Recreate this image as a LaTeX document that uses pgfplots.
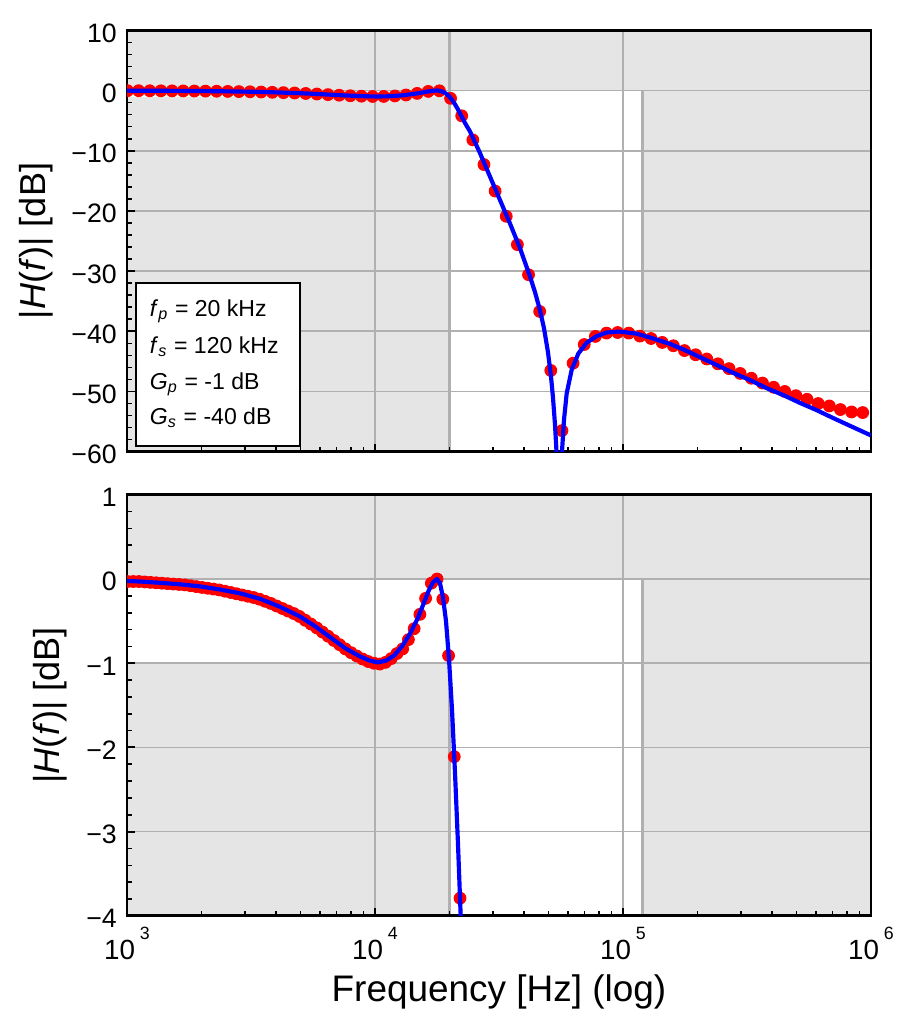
\documentclass[border=0pt]{standalone}
\usepackage{fontspec}
\setmainfont{Liberation Sans}
\usepackage{pgfplots}
\pgfplotsset{compat=1.18}
\usepackage{pgfplotstable}
\definecolor{band}{RGB}{229,229,229}
\definecolor{gridc}{RGB}{176,176,176}
\newcommand{\pw}[1]{10\kern1.7bp\raisebox{7.1bp}{\fontsize{6.4bp}{7bp}\selectfont #1}}

\pgfplotstableread{
lx db
3.0020 -0.03
3.0469 -0.03
3.0919 -0.04
3.1368 -0.05
3.1817 -0.06
3.2266 -0.07
3.2715 -0.085
3.3164 -0.105
3.3614 -0.125
3.4063 -0.15
3.4512 -0.18
3.4961 -0.21
3.5410 -0.25
3.5860 -0.30
3.6309 -0.355
3.6758 -0.415
3.7207 -0.49
3.7656 -0.58
3.8105 -0.68
3.8555 -0.78
3.9004 -0.87
3.9453 -0.94
3.9902 -0.99
4.0351 -0.985
4.0801 -0.90
4.1250 -0.74
4.1699 -0.48
4.2148 -0.15
4.2597 -0.05
4.3047 -1.3
4.3496 -4.2
4.3945 -8.2
4.4394 -12.3
4.4843 -16.7
4.5292 -20.9
4.5742 -25.6
4.6191 -30.6
4.6640 -36.7
4.7089 -46.5
4.7538 -56.5
4.7988 -45.3
4.8437 -42.2
4.8886 -40.85
4.9335 -40.3
4.9784 -40.2
5.0234 -40.3
5.0683 -40.8
5.1132 -41.2
5.1581 -41.85
5.2030 -42.4
5.2479 -43.2
5.2929 -43.9
5.3378 -44.6
5.3827 -45.4
5.4276 -46.2
5.4725 -47.0
5.5175 -47.8
5.5624 -48.6
5.6073 -49.3
5.6522 -50.0
5.6971 -50.7
5.7421 -51.3
5.7870 -52.0
5.8319 -52.4
5.8768 -53.0
5.9217 -53.4
5.9666 -53.5
}\topdots

\pgfplotstableread{
lx db
3.0020 -0.03
3.0251 -0.03
3.0483 -0.03
3.0714 -0.035
3.0945 -0.04
3.1176 -0.045
3.1407 -0.05
3.1638 -0.055
3.1870 -0.06
3.2101 -0.065
3.2332 -0.07
3.2563 -0.08
3.2794 -0.09
3.3025 -0.10
3.3257 -0.11
3.3488 -0.12
3.3719 -0.13
3.3950 -0.145
3.4181 -0.16
3.4412 -0.175
3.4644 -0.19
3.4875 -0.205
3.5106 -0.22
3.5337 -0.24
3.5568 -0.265
3.5799 -0.29
3.6031 -0.32
3.6262 -0.35
3.6493 -0.38
3.6724 -0.41
3.6955 -0.445
3.7186 -0.49
3.7418 -0.535
3.7649 -0.58
3.7880 -0.63
3.8111 -0.68
3.8342 -0.73
3.8573 -0.78
3.8805 -0.83
3.9036 -0.875
3.9267 -0.915
3.9498 -0.95
3.9729 -0.98
3.9960 -1.00
4.0192 -1.01
4.0423 -0.99
4.0654 -0.945
4.0885 -0.885
4.1116 -0.83
4.1347 -0.72
4.1579 -0.59
4.1810 -0.42
4.2041 -0.23
4.2272 -0.05
4.2503 0.0
4.2734 -0.24
4.2966 -0.91
4.3197 -2.11
4.3428 -3.79
}\botdots

\pgfplotstableread{
lx db
3.0000 -0.024
3.0524 -0.03
3.1331 -0.045
3.2137 -0.063
3.2944 -0.088
3.3750 -0.125
3.4556 -0.17
3.5363 -0.235
3.6169 -0.33
3.6976 -0.445
3.7581 -0.56
3.8185 -0.69
3.8790 -0.82
3.9395 -0.92
3.9798 -0.97
4.0121 -0.99
4.0444 -0.97
4.0766 -0.91
4.1089 -0.80
4.1411 -0.65
4.1734 -0.46
4.1976 -0.28
4.2177 -0.13
4.2339 -0.04
4.2500 0.0
4.2621 -0.05
4.2742 -0.22
4.2863 -0.50
4.2984 -0.95
4.3105 -1.55
4.3226 -2.3
4.3347 -3.15
4.3468 -4.1
4.3629 -5.4
4.3831 -6.8
4.4234 -10.4
4.4637 -14.3
4.5040 -18.2
4.5444 -22.1
4.5847 -26.2
4.6250 -30.9
4.6452 -33.5
4.6653 -36.5
4.6815 -39.5
4.6976 -43.5
4.7097 -47.5
4.7177 -51
4.7258 -55.5
4.7319 -60
4.7379 -67
4.7419 -80
4.7480 -68
4.7540 -60
4.7621 -54.7
4.7730 -50.3
4.7931 -46.4
4.8198 -43.7
4.8536 -41.9
4.8940 -40.8
4.9343 -40.2
4.9879 -40.05
5.0552 -40.4
5.1222 -41.2
5.1895 -42.1
5.2431 -43.0
5.3105 -44.3
5.3778 -45.6
5.4435 -46.9
5.5121 -48.1
5.5766 -49.4
5.6464 -50.6
5.7137 -51.9
5.7810 -53.1
5.8468 -54.4
5.9153 -55.7
6.0000 -57.3
}\curve

\pgfplotsset{
  filt/.style={
    scale only axis, width=267.84bp,
    xmin=3, xmax=6,
    xtick={3,4,5,6},
    minor xtick={3.30103,3.47712,3.60206,3.69897,3.77815,3.84510,3.90309,3.95424,
                 4.30103,4.47712,4.60206,4.69897,4.77815,4.84510,4.90309,4.95424,
                 5.30103,5.47712,5.60206,5.69897,5.77815,5.84510,5.90309,5.95424},
    tick pos=left,
    tick align=inside,
    major tick length=2.9bp, minor tick length=1.7bp,
    every major tick/.append style={line width=0.7bp, black},
    every minor tick/.append style={line width=0.6bp, black},
    xmajorgrids, ymajorgrids,
    major grid style={line width=0.6bp, gridc},
    axis line style={line width=1bp, black},
    set layers,
    clip marker paths=true,
    minor y tick num=4,
    yticklabel style={font=\fontsize{9.6bp}{11bp}\selectfont, anchor=east, inner sep=0pt, xshift=-3.5bp, yshift=-1bp},
    xticklabel style={font=\fontsize{10bp}{12bp}\selectfont, anchor=north, inner sep=0pt, yshift=-3.85bp},
  },
  dots/.style={only marks, mark=*, mark size=2.1bp, color=red, mark options={draw=none, fill=red}},
  fline/.style={color=blue, line width=1.5bp, no marks, line join=round},
}

\begin{document}
\begin{tikzpicture}
\path (0,0) rectangle (328.68bp,370.8bp);

% ---------- top panel ----------
\begin{axis}[filt,
  at={(45.72bp,208.19bp)}, anchor=south west,
  height=151.7bp,
  ymin=-60, ymax=10,
  ytick={-60,-50,...,10},
  yticklabels={−60,−50,−40,−30,−20,−10,0,10},
  xticklabels={},
  every axis y label/.style={at={(axis description cs:-0.1223,0.5)}, rotate=90, anchor=center, font=\fontsize{13bp}{15bp}\selectfont},
  ylabel={|\textit{H}(\textit{f}\/)| [dB]},
]
\begin{pgfonlayer}{axis background}
\fill[band] (axis cs:3,0) rectangle (axis cs:6,10);
\fill[band] (axis cs:3,-60) rectangle (axis cs:4.30103,-1);
\fill[band] (axis cs:5.07918,-40) rectangle (axis cs:6,0);
\draw[gridc, line width=0.85bp] (axis cs:4.30103,-60) -- (axis cs:4.30103,10);
\draw[gridc, line width=0.85bp] (axis cs:5.07918,-40) -- (axis cs:5.07918,0);
\end{pgfonlayer}
\addplot[dots] table[x=lx, y=db] {\topdots};
\addplot[fline] table[x=lx, y=db] {\curve};
\draw[black, line width=1bp, fill=white] (axis description cs:0.0121,0.0135) rectangle (axis description cs:0.2325,0.4003);
\node[anchor=base west, inner sep=0pt, font=\fontsize{8.3bp}{9bp}\selectfont] at (axis description cs:0.030,0.3204) {\textit{f}\textsubscript{\textit{p}} = 20 kHz};
\node[anchor=base west, inner sep=0pt, font=\fontsize{8.3bp}{9bp}\selectfont] at (axis description cs:0.030,0.2335) {\textit{f}\textsubscript{\textit{s}} = 120 kHz};
\node[anchor=base west, inner sep=0pt, font=\fontsize{8.3bp}{9bp}\selectfont] at (axis description cs:0.030,0.1481) {\textit{G}\textsubscript{\textit{p}} = -1 dB};
\node[anchor=base west, inner sep=0pt, font=\fontsize{8.3bp}{9bp}\selectfont] at (axis description cs:0.030,0.0634) {\textit{G}\textsubscript{\textit{s}} = -40 dB};
\end{axis}

% ---------- bottom panel ----------
\begin{axis}[filt,
  at={(45.72bp,41.08bp)}, anchor=south west,
  height=151.6bp,
  ymin=-4, ymax=1,
  ytick={-4,-3,...,1},
  yticklabels={−4,−3,−2,−1,0,1},
  xticklabels={\pw{3},\pw{4},\pw{5},\pw{6}},
  every axis y label/.style={at={(axis description cs:-0.1035,0.5)}, rotate=90, anchor=center, font=\fontsize{13bp}{15bp}\selectfont},
  ylabel={|\textit{H}(\textit{f}\/)| [dB]},
  every axis x label/.style={at={(axis description cs:0.5,-0.2038)}, anchor=base, font=\fontsize{13.3bp}{15bp}\selectfont},
  xlabel={Frequency [Hz] (log)},
]
\begin{pgfonlayer}{axis background}
\fill[band] (axis cs:3,0) rectangle (axis cs:6,1);
\fill[band] (axis cs:3,-4) rectangle (axis cs:4.30103,-1);
\fill[band] (axis cs:5.07918,-4) rectangle (axis cs:6,0);
\draw[gridc, line width=0.85bp] (axis cs:4.30103,-4) -- (axis cs:4.30103,-1);
\draw[gridc, line width=0.85bp] (axis cs:5.07918,-4) -- (axis cs:5.07918,0);
\end{pgfonlayer}
\addplot[dots] table[x=lx, y=db] {\botdots};
\addplot[fline] table[x=lx, y=db] {\curve};
\end{axis}
\end{tikzpicture}
\end{document}
